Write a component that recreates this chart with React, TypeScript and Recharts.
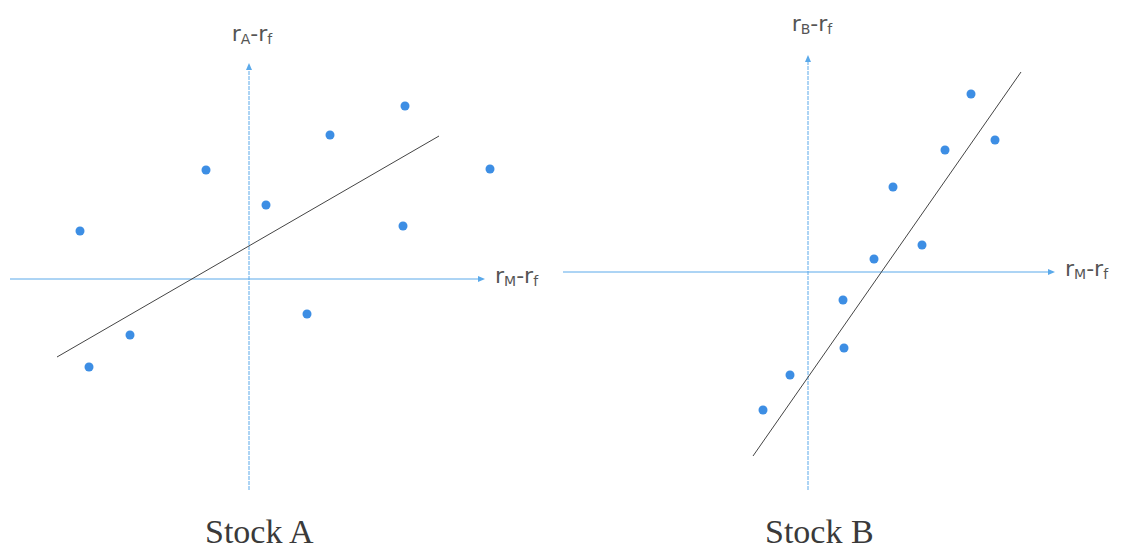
import { ReferenceLine, Scatter, ScatterChart, XAxis, YAxis, ZAxis } from "recharts";

// Stock A excess returns (market x, stock y)
const stockAX = [-16.9, -16.0, -11.9, -4.3, 1.7, 8.1, 15.6, 5.8, 15.4, 24.1];
const stockAY = [4.8, -8.8, -5.6, 10.9, 7.4, 14.4, 17.3, -3.5, 5.3, 11.0];
const fitAX = [-19.2, 19.0];
const fitAY = [-7.8, 14.3];

// Stock B excess returns
const stockBX = [16.3, 18.7, 13.7, 8.5, 11.4, 6.6, 3.5, 3.6, -1.8, -4.5];
const stockBY = [17.8, 13.2, 12.2, 8.5, 2.7, 1.3, -2.8, -7.6, -10.3, -13.8];
const fitBX = [-5.5, 21.3];
const fitBY = [-18.4, 20.0];

// axis extents: [xMin, xMax, yMin, yMax]
const axesA = [-23.9, 23.6, -21.1, 21.6];
const axesB = [-24.5, 24.7, -21.8, 21.7];

const dotColor = "#3d8ee4";
const axisColor = "#5aa9ea";

const toPoints = (xs: number[], ys: number[]) => xs.map((x, i) => ({ x, y: ys[i] }));

function Arrow({ x1, y1, x2, y2, dash, label, labelPos }: any) {
  const ang = Math.atan2(y2 - y1, x2 - x1);
  const len = 7;
  const w = 3;
  const bx = x2 - len * Math.cos(ang);
  const by = y2 - len * Math.sin(ang);
  const px = -Math.sin(ang) * w;
  const py = Math.cos(ang) * w;
  return (
    <g>
      <line x1={x1} y1={y1} x2={bx} y2={by} stroke={axisColor} strokeWidth={1} strokeDasharray={dash} />
      <polygon points={`${x2},${y2} ${bx + px},${by + py} ${bx - px},${by - py}`} fill={axisColor} />
      <text
        x={x2 + labelPos[0]}
        y={y2 + labelPos[1]}
        textAnchor={labelPos[2]}
        fontFamily="'DejaVu Sans', sans-serif"
        fontSize={22}
        fill="#555"
      >
        r
        <tspan fontSize={14} dy={3}>{label[0]}</tspan>
        <tspan dy={-3}>-r</tspan>
        <tspan fontSize={14} dy={3}>{label[1]}</tspan>
      </text>
    </g>
  );
}

function StockPanel({
  xs,
  ys,
  fitX,
  fitY,
  axes,
  yDomain,
  sub,
  vLabelPos,
}: {
  xs: number[];
  ys: number[];
  fitX: number[];
  fitY: number[];
  axes: number[];
  yDomain: [number, number];
  sub: string;
  vLabelPos: any[];
}) {
  return (
    <ScatterChart width={560} height={500} margin={{ top: 0, right: 0, bottom: 0, left: 0 }}>
      <XAxis type="number" dataKey="x" domain={[-25, 31]} hide />
      <YAxis type="number" dataKey="y" domain={yDomain} hide />
      <ZAxis range={[95, 95]} />
      <ReferenceLine
        segment={[{ x: axes[0], y: 0 }, { x: axes[1], y: 0 }]}
        shape={(p: any) => <Arrow {...p} label={["M", "f"]} labelPos={[10, 4, "start"]} />}
        ifOverflow="visible"
      />
      <ReferenceLine
        segment={[{ x: 0, y: axes[2] }, { x: 0, y: axes[3] }]}
        shape={(p: any) => <Arrow {...p} dash="4 1" label={[sub, "f"]} labelPos={vLabelPos} />}
        ifOverflow="visible"
      />
      <ReferenceLine
        segment={[{ x: fitX[0], y: fitY[0] }, { x: fitX[1], y: fitY[1] }]}
        stroke="#444"
        strokeWidth={1}
        ifOverflow="visible"
      />
      <Scatter data={toPoints(xs, ys)} fill={dotColor} isAnimationActive={false} />
    </ScatterChart>
  );
}

const titleStyle: React.CSSProperties = {
  position: "absolute",
  fontFamily: "'Liberation Serif', 'Times New Roman', serif",
  fontSize: 34,
  color: "#3a3a3a",
  lineHeight: "30px",
};

export default function App() {
  return (
    <div style={{ position: "absolute", left: 0, top: 0, width: 1121, height: 550, background: "#fff", overflow: "hidden" }}>
      <div style={{ position: "absolute", left: -1, top: -1 }}>
        <StockPanel xs={stockAX} ys={stockAY} fitX={fitAX} fitY={fitAY} axes={axesA} yDomain={[-22, 28]} sub="A" vLabelPos={[3, -22, "middle"]} />
      </div>
      <div style={{ position: "absolute", left: 558, top: 2 }}>
        <StockPanel xs={stockBX} ys={stockBY} fitX={fitBX} fitY={fitBY} axes={axesB} yDomain={[-23, 27]} sub="B" vLabelPos={[4, -24, "middle"]} />
      </div>
      <div style={{ ...titleStyle, left: 205, top: 517 }}>Stock A</div>
      <div style={{ ...titleStyle, left: 765, top: 517 }}>Stock B</div>
    </div>
  );
}
